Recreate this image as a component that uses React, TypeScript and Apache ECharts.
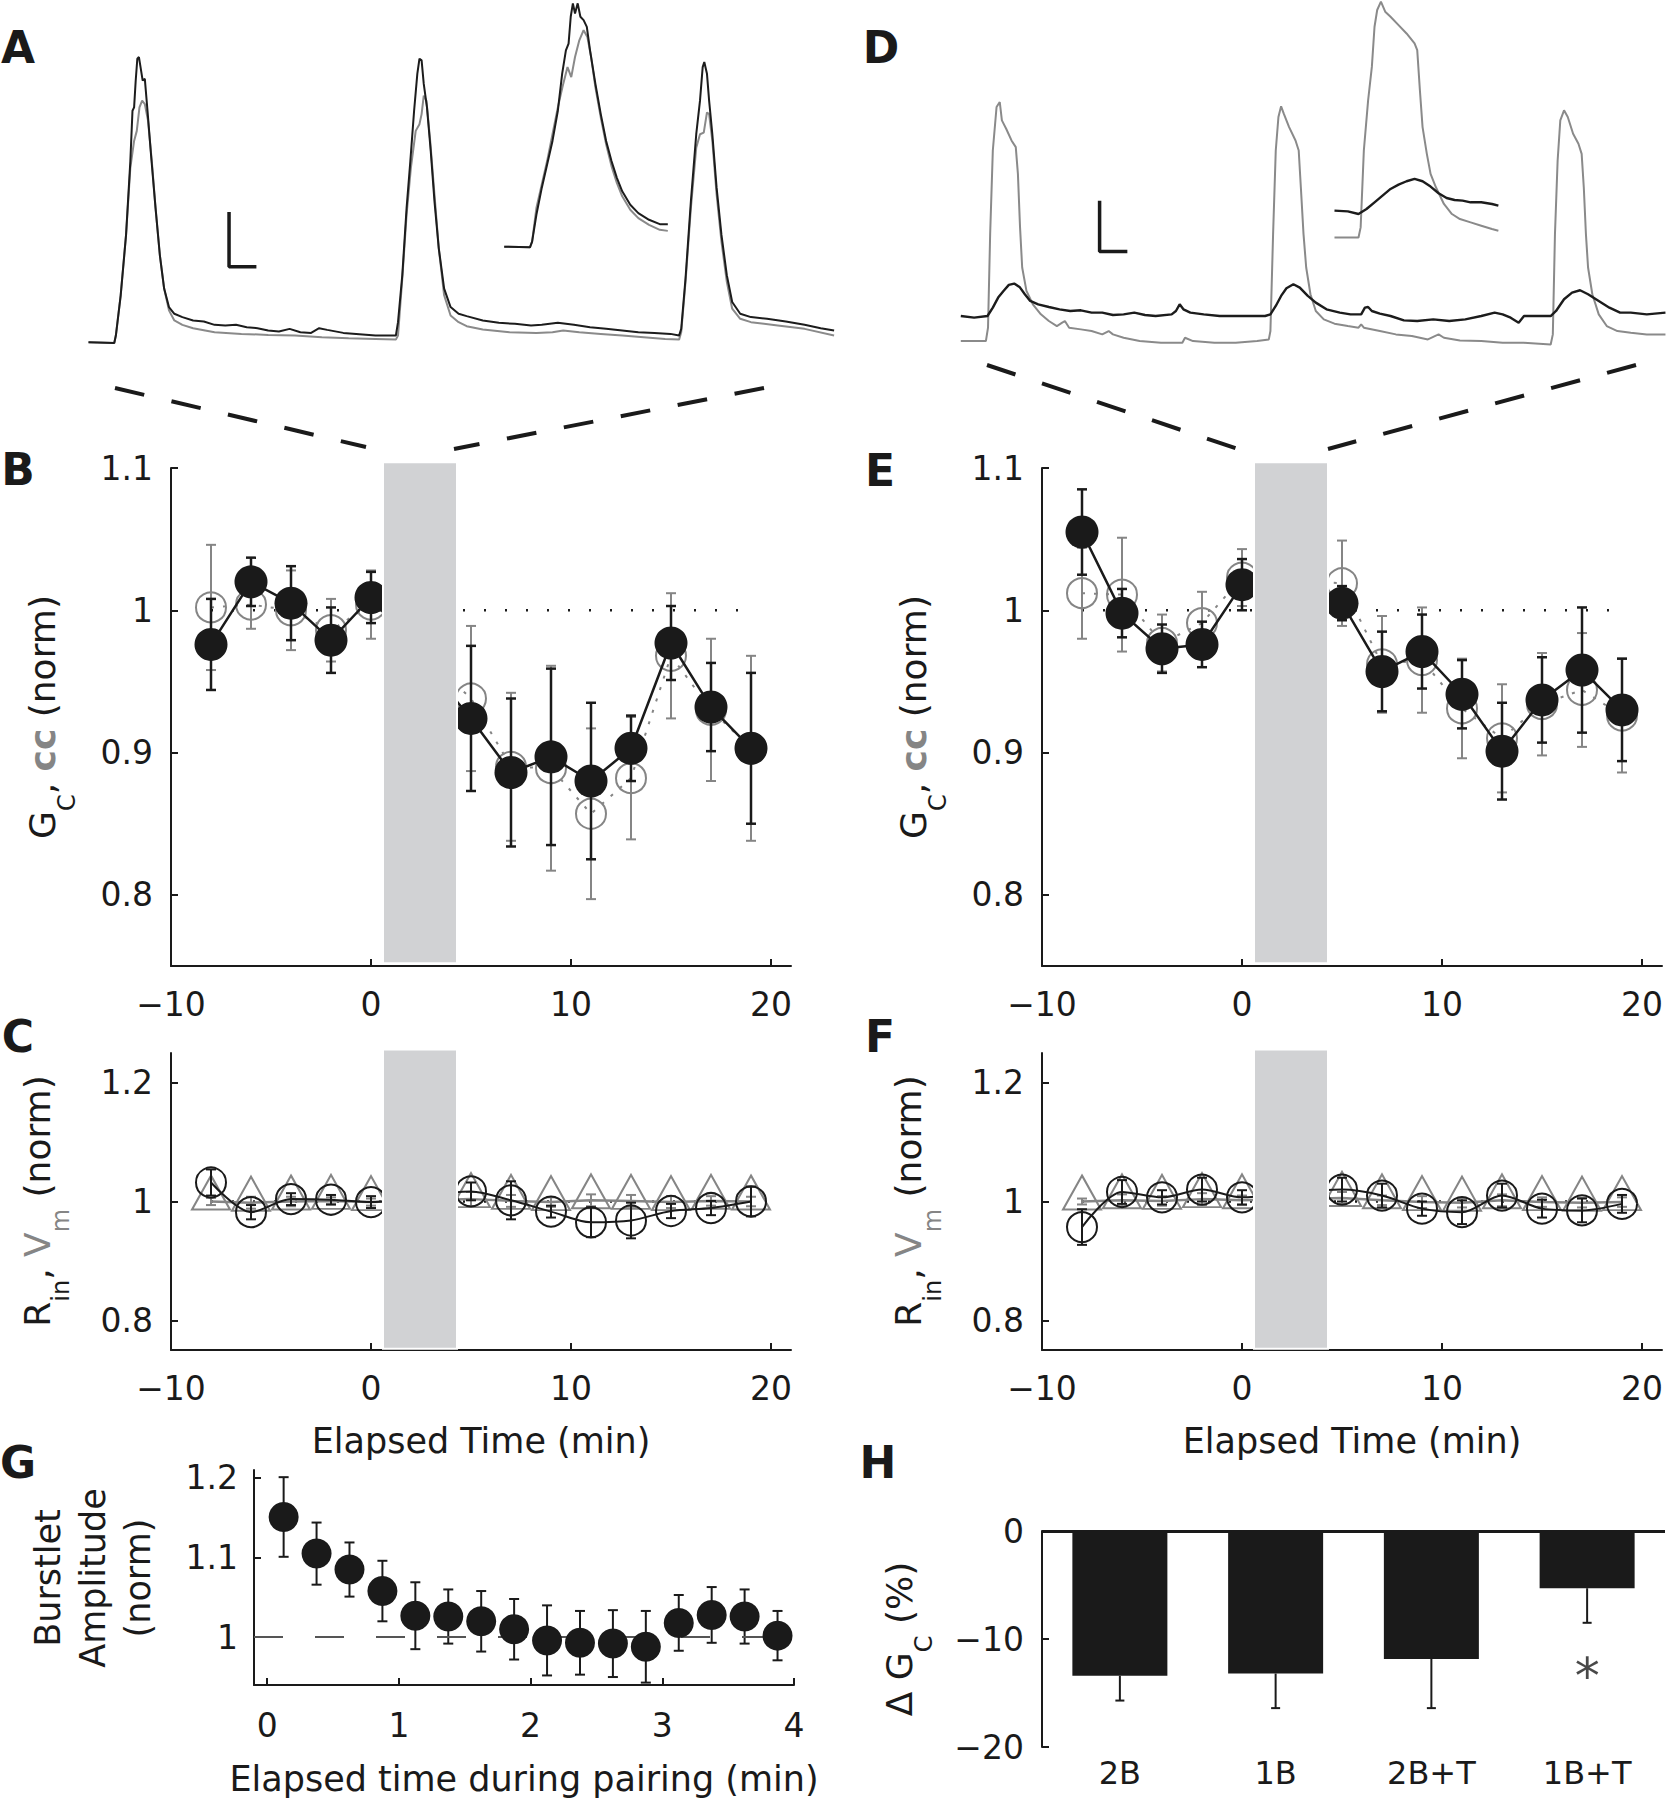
import React, { useEffect, useRef } from 'react';
import * as echarts from 'echarts';

const FONT_NAME = 'DejaVu Sans';
const FONT = '"DejaVu Sans", "Liberation Sans", Arial, sans-serif';
const BLACK = '#1a1a1a';
const GRAY = '#858585';
const TRACE_BLACK = '#1c1c1c';
const TRACE_GRAY = '#8a8a8a';
const SHADE = '#d1d2d4';

// ---------- Panels B–F : sampling times (min) ----------
const timeMin = [-8, -6, -4, -2, 0, 5, 7, 9, 11, 13, 15, 17, 19];
const pairingWindow = [0.6, 4.3];
const gcTicks = [0.8, 0.9, 1, 1.1];
const rvTicks = [0.8, 1, 1.2];
const baselineSpan = [-8, 19];

// B : 2 bursts (G_C black, cc grey)
const bGc = [0.976, 1.02, 1.005, 0.979, 1.009, 0.924, 0.886, 0.897, 0.88, 0.903, 0.977, 0.932, 0.903];
const bGcErr = [0.032, 0.017, 0.026, 0.023, 0.018, 0.051, 0.052, 0.062, 0.055, 0.023, 0.026, 0.031, 0.053];
const bCc = [1.002, 1.004, 1.0, 0.986, 1.004, 0.938, 0.89, 0.889, 0.857, 0.882, 0.968, 0.93, 0.903];
const bCcErr = [0.044, 0.017, 0.028, 0.022, 0.024, 0.051, 0.052, 0.072, 0.06, 0.043, 0.044, 0.05, 0.065];

// E
const eGc = [1.055, 0.998, 0.973, 0.976, 1.018, 1.005, 0.957, 0.971, 0.941, 0.901, 0.937, 0.958, 0.93];
const eGcErr = [0.03, 0.017, 0.017, 0.016, 0.018, 0.012, 0.028, 0.026, 0.024, 0.034, 0.03, 0.044, 0.036];
const eCc = [1.012, 1.011, 0.977, 0.991, 1.023, 1.019, 0.962, 0.965, 0.931, 0.91, 0.934, 0.944, 0.926];
const eCcErr = [0.032, 0.04, 0.02, 0.022, 0.02, 0.03, 0.034, 0.037, 0.035, 0.038, 0.036, 0.04, 0.04];

// C : R_in (black circles), V_m (grey triangles)
const cRin = [1.032, 0.982, 1.004, 1.003, 0.999, 1.017, 1.002, 0.983, 0.965, 0.968, 0.984, 0.989, 1.0];
const cRinErr = [0.022, 0.012, 0.01, 0.008, 0.01, 0.015, 0.032, 0.01, 0.025, 0.03, 0.012, 0.012, 0.025];
const cVm = [1.0, 0.998, 1.0, 1.001, 0.999, 1.004, 1.001, 0.999, 1.002, 1.001, 0.999, 1.001, 1.0];
const cVmErr = [0.006, 0.01, 0.008, 0.006, 0.006, 0.012, 0.01, 0.008, 0.01, 0.01, 0.01, 0.008, 0.008];

// F
const fRin = [0.957, 1.016, 1.007, 1.02, 1.007, 1.02, 1.01, 0.988, 0.982, 1.01, 0.988, 0.985, 0.996];
const fRinErr = [0.03, 0.02, 0.012, 0.02, 0.012, 0.02, 0.02, 0.012, 0.02, 0.02, 0.015, 0.02, 0.015];
const fVm = [1.0, 1.002, 1.001, 1.004, 1.002, 1.006, 1.002, 0.999, 0.998, 1.002, 0.999, 0.998, 0.999];
const fVmErr = [0.005, 0.01, 0.008, 0.01, 0.008, 0.01, 0.008, 0.01, 0.008, 0.01, 0.008, 0.008, 0.008];

// G : burstlet amplitude during pairing
const gTime = [0.125, 0.375, 0.625, 0.875, 1.125, 1.375, 1.625, 1.875, 2.125, 2.375, 2.625, 2.875, 3.125, 3.375, 3.625, 3.875];
const gAmp = [1.151, 1.105, 1.085, 1.058, 1.027, 1.026, 1.02, 1.01, 0.996, 0.993, 0.992, 0.988, 1.018, 1.028, 1.026, 1.002];
const gErr = [0.05, 0.039, 0.034, 0.038, 0.042, 0.034, 0.038, 0.038, 0.044, 0.04, 0.042, 0.045, 0.035, 0.035, 0.034, 0.031];
const gTicksX = [0, 1, 2, 3, 4];
const gTicksY = [1, 1.1, 1.2];

// H : change in G_C
const hCats = ['2B', '1B', '2B+T', '1B+T'];
const hVals = [-13.4, -13.2, -11.85, -5.3];
const hErr = [2.3, 3.2, 4.55, 3.2];
const hStar = ['1B+T', -12.3];

// ---------- Traces (time a.u., amplitude a.u.) ----------
const traceABlack = [[1.65,0],[2.13,-0.02],[2.16,0.2],[2.25,1.4],[2.35,3.2],[2.43,5.4],[2.47,6.9],[2.5,7.0],[2.53,7.8],[2.56,8.45],[2.59,8.5],[2.62,8.2],[2.66,7.8],[2.7,7.85],[2.75,6.9],[2.82,5.5],[2.9,4.0],[2.98,2.6],[3.06,1.6],[3.15,1.05],[3.25,0.85],[3.4,0.75],[3.6,0.65],[3.8,0.62],[4.0,0.52],[4.2,0.5],[4.4,0.52],[4.6,0.45],[4.8,0.42],[5.0,0.35],[5.2,0.32],[5.4,0.4],[5.6,0.3],[5.8,0.28],[5.95,0.42],[6.1,0.37],[6.4,0.28],[6.7,0.24],[7.0,0.2],[7.38,0.2],[7.42,0.6],[7.5,2.0],[7.58,4.0],[7.65,5.4],[7.72,6.9],[7.78,8.0],[7.82,8.45],[7.86,8.4],[7.9,7.7],[7.96,7.0],[8.03,5.7],[8.1,4.2],[8.18,2.8],[8.28,1.6],[8.4,1.05],[8.55,0.85],[8.7,0.78],[9.0,0.65],[9.3,0.58],[9.6,0.55],[9.9,0.5],[10.1,0.52],[10.4,0.58],[10.7,0.52],[11.0,0.45],[11.3,0.4],[11.6,0.35],[11.9,0.3],[12.2,0.28],[12.5,0.25],[12.66,0.2],[12.7,0.4],[12.78,1.9],[12.88,4.2],[12.98,6.2],[13.05,7.2],[13.1,8.2],[13.13,8.35],[13.18,8.0],[13.22,7.2],[13.28,6.2],[13.36,4.6],[13.45,3.2],[13.55,2.0],[13.65,1.2],[13.8,0.85],[14.0,0.75],[14.3,0.7],[14.65,0.62],[15.0,0.52],[15.3,0.42],[15.55,0.35]];
const traceAGray = [[1.65,0],[2.13,-0.02],[2.16,0.2],[2.25,1.4],[2.35,3.2],[2.43,5.2],[2.5,6.0],[2.55,6.3],[2.6,7.0],[2.65,7.2],[2.7,7.1],[2.76,6.6],[2.83,5.4],[2.9,4.0],[2.98,2.6],[3.06,1.6],[3.15,0.95],[3.25,0.65],[3.4,0.52],[3.6,0.42],[4.0,0.3],[4.5,0.25],[5.0,0.22],[5.5,0.2],[6.0,0.15],[6.5,0.12],[7.0,0.1],[7.38,0.08],[7.42,0.2],[7.5,1.9],[7.58,3.8],[7.66,5.2],[7.75,6.3],[7.82,6.5],[7.86,6.8],[7.9,7.35],[7.95,7.2],[8.02,6.0],[8.1,4.4],[8.18,2.8],[8.28,1.4],[8.4,0.8],[8.55,0.6],[8.7,0.48],[9.0,0.38],[9.5,0.3],[10.0,0.28],[10.3,0.3],[10.5,0.35],[10.8,0.3],[11.2,0.25],[11.6,0.2],[12.0,0.15],[12.4,0.1],[12.66,0.08],[12.7,0.3],[12.78,1.8],[12.88,4.0],[12.98,5.8],[13.05,6.2],[13.12,6.25],[13.18,6.85],[13.22,6.8],[13.28,6.0],[13.36,4.4],[13.45,3.0],[13.55,1.8],[13.65,1.0],[13.8,0.7],[14.0,0.6],[14.5,0.5],[15.0,0.4],[15.55,0.2]];
const insetABlack = [[9.4,2.85],[9.88,2.83],[9.92,3.0],[10.0,3.8],[10.1,4.6],[10.2,5.3],[10.3,6.0],[10.4,6.9],[10.48,8.0],[10.55,8.7],[10.6,8.9],[10.64,9.7],[10.68,10.1],[10.72,9.8],[10.77,10.1],[10.82,9.7],[10.88,9.6],[10.94,9.4],[11.0,8.7],[11.1,7.7],[11.2,6.8],[11.3,6.0],[11.4,5.4],[11.5,4.9],[11.6,4.5],[11.75,4.1],[11.9,3.85],[12.1,3.65],[12.3,3.52],[12.45,3.52]];
const insetAGray = [[9.4,2.85],[9.88,2.83],[9.92,3.0],[10.0,4.0],[10.1,4.7],[10.2,5.4],[10.3,6.2],[10.4,7.0],[10.5,7.7],[10.58,8.2],[10.65,7.9],[10.72,8.5],[10.8,9.0],[10.88,9.3],[10.95,9.1],[11.02,8.5],[11.1,7.6],[11.2,6.7],[11.3,5.9],[11.4,5.25],[11.5,4.75],[11.6,4.35],[11.75,3.95],[11.9,3.7],[12.1,3.5],[12.3,3.35],[12.45,3.32]];
const scaleBarA = [[4.27,3.88],[4.27,2.25],[4.78,2.25]];

const traceDBlack = [[2.45,0.75],[2.7,0.7],[2.95,0.75],[3.05,1.0],[3.15,1.3],[3.25,1.5],[3.35,1.68],[3.45,1.72],[3.55,1.62],[3.65,1.4],[3.75,1.2],[3.9,1.1],[4.1,1.02],[4.3,0.95],[4.5,0.9],[4.7,0.92],[4.9,0.85],[5.1,0.85],[5.3,0.78],[5.5,0.8],[5.7,0.85],[5.9,0.78],[6.1,0.75],[6.4,0.8],[6.48,0.9],[6.55,1.1],[6.62,0.95],[6.75,0.85],[7.0,0.8],[7.3,0.75],[7.6,0.75],[7.9,0.75],[8.15,0.75],[8.25,0.8],[8.35,1.05],[8.45,1.35],[8.55,1.58],[8.68,1.7],[8.8,1.6],[8.95,1.35],[9.1,1.15],[9.3,0.95],[9.55,0.85],[9.75,0.8],[9.95,0.8],[10.02,1.0],[10.08,1.02],[10.15,0.9],[10.3,0.82],[10.5,0.75],[10.75,0.62],[11.0,0.6],[11.3,0.65],[11.6,0.6],[11.9,0.65],[12.2,0.75],[12.45,0.85],[12.6,0.8],[12.75,0.7],[12.9,0.55],[13.0,0.75],[13.2,0.75],[13.5,0.75],[13.6,0.9],[13.75,1.25],[13.9,1.45],[14.05,1.52],[14.2,1.4],[14.4,1.2],[14.6,1.0],[14.8,0.85],[15.0,0.85],[15.3,0.8],[15.65,0.85]];
const traceDGray = [[2.45,0],[2.92,0],[2.96,0.4],[3.0,3.2],[3.05,5.7],[3.12,7.0],[3.18,7.15],[3.22,6.6],[3.3,6.35],[3.4,6.0],[3.48,5.8],[3.52,5.0],[3.56,3.4],[3.6,2.2],[3.68,1.5],[3.8,1.1],[3.95,0.8],[4.1,0.6],[4.25,0.45],[4.35,0.55],[4.4,0.6],[4.48,0.4],[4.7,0.35],[4.9,0.3],[5.1,0.2],[5.22,0.3],[5.3,0.2],[5.5,0.1],[5.8,0],[6.2,-0.05],[6.6,-0.05],[6.65,0.1],[6.8,0],[7.2,-0.05],[7.6,-0.05],[8.0,0],[8.22,0.05],[8.25,0.3],[8.3,3.2],[8.35,5.7],[8.4,6.7],[8.45,7.02],[8.5,6.8],[8.6,6.4],[8.72,6.0],[8.78,5.7],[8.82,4.6],[8.87,3.2],[8.92,2.2],[9.0,1.4],[9.1,0.9],[9.25,0.65],[9.45,0.52],[9.7,0.45],[9.9,0.4],[9.95,0.5],[10.0,0.4],[10.3,0.3],[10.6,0.2],[10.9,0.15],[11.2,0.05],[11.4,0.2],[11.5,0.1],[11.8,0.02],[12.2,0],[12.6,-0.05],[13.0,-0.05],[13.5,-0.1],[13.54,0.2],[13.58,3.2],[13.63,5.4],[13.68,6.6],[13.75,6.9],[13.82,6.7],[13.92,6.2],[14.02,5.9],[14.08,5.6],[14.12,4.6],[14.16,3.2],[14.2,2.2],[14.28,1.4],[14.4,0.8],[14.55,0.45],[14.75,0.3],[15.0,0.25],[15.3,0.2],[15.65,0.2]];
const insetDBlack = [[9.45,3.9],[9.7,3.88],[9.9,3.8],[10.05,3.95],[10.2,4.15],[10.35,4.35],[10.5,4.55],[10.65,4.68],[10.8,4.78],[10.95,4.85],[11.1,4.78],[11.25,4.62],[11.4,4.42],[11.55,4.28],[11.7,4.22],[11.85,4.2],[12.0,4.15],[12.2,4.15],[12.4,4.1],[12.52,4.05]];
const insetDGray = [[9.45,3.1],[9.9,3.1],[9.94,3.4],[10.0,5.7],[10.08,7.2],[10.15,8.2],[10.2,9.4],[10.25,9.9],[10.32,10.15],[10.4,9.85],[10.5,9.7],[10.65,9.45],[10.8,9.2],[10.95,8.9],[11.0,8.7],[11.05,7.5],[11.1,6.4],[11.18,5.6],[11.25,5.0],[11.35,4.6],[11.5,4.1],[11.65,3.8],[11.8,3.65],[12.0,3.55],[12.2,3.45],[12.4,3.35],[12.52,3.3]];
const scaleBarD = [[5.05,4.2],[5.05,2.68],[5.57,2.68]];

// ---------- helpers ----------
const fmt = (v: number) => (v < 0 ? '\u2212' + String(Math.abs(v)) : String(v));
const xy = (xs: number[], ys: number[]) => xs.map((x, i) => [x, ys[i]]);

const axisBase = (gridIndex: number): any => ({
  gridIndex,
  type: 'value',
  splitLine: { show: false },
  axisLine: { show: true, onZero: false, lineStyle: { color: BLACK, width: 2 } },
  axisTick: { show: true, inside: true, length: 7, lineStyle: { color: BLACK, width: 2 } },
  axisLabel: { color: BLACK, fontSize: 33, fontFamily: FONT, formatter: fmt, margin: 22 },
});

const timeX = (g: number) => {
  const b = axisBase(g);
  return { ...b, min: -10, max: 21, interval: 10 };
};
const customAxis = (g: number, min: number, max: number, ticks: number[], margin: number) => {
  const b = axisBase(g);
  return {
    ...b, min, max,
    axisTick: { ...b.axisTick, customValues: ticks },
    axisLabel: { ...b.axisLabel, margin, customValues: ticks },
  };
};
const hiddenAxis = (g: number, min: number, max: number) => ({ type: 'value', gridIndex: g, min, max, show: false });

function errorBars(ax: number, xs: any[], ys: number[], errs: number[], color: string, cap: number, lw: number, z: number, downOnly = false) {
  return {
    type: 'custom', xAxisIndex: ax, yAxisIndex: ax, z, silent: true,
    data: xs.map((x, i) => [downOnly ? i : x, downOnly ? ys[i] : ys[i] - errs[i], ys[i] + (downOnly ? -errs[i] : errs[i])]),
    encode: { x: 0, y: [1, 2] },
    renderItem: (_p: any, api: any) => {
      const x = api.value(0);
      const a = api.coord([x, api.value(1)]);
      const b = api.coord([x, api.value(2)]);
      const st = { stroke: color, lineWidth: lw };
      const kids: any[] = [
        { type: 'line', shape: { x1: a[0], y1: a[1], x2: b[0], y2: b[1] }, style: st },
        { type: 'line', shape: { x1: b[0] - cap, y1: b[1], x2: b[0] + cap, y2: b[1] }, style: st },
      ];
      if (!downOnly) kids.push({ type: 'line', shape: { x1: a[0] - cap, y1: a[1], x2: a[0] + cap, y2: a[1] }, style: st });
      return { type: 'group', children: kids };
    },
  };
}

function shade(ax: number, yLo: number, yHi: number) {
  return {
    type: 'custom', xAxisIndex: ax, yAxisIndex: ax, z: 20, silent: true, clip: false,
    data: [[pairingWindow[0], pairingWindow[1], yLo, yHi]],
    encode: { x: [0, 1], y: [2, 3] },
    renderItem: (_p: any, api: any) => {
      const a = api.coord([api.value(0), api.value(3)]);
      const b = api.coord([api.value(1), api.value(2)]);
      return { type: 'rect', shape: { x: a[0], y: a[1], width: b[0] - a[0], height: b[1] - a[1] }, style: { fill: SHADE, stroke: '#ffffff', lineWidth: 2 } };
    },
  };
}

function refLine(ax: number, z = 1) {
  return {
    type: 'line', xAxisIndex: ax, yAxisIndex: ax, z, silent: true, symbol: 'none',
    data: [[baselineSpan[0], 1], [baselineSpan[1], 1]],
    lineStyle: { color: BLACK, width: 2.5, type: [2, 19] },
  };
}

function traceLine(ax: number, data: number[][], color: string, width: number, z: number) {
  return { type: 'line', xAxisIndex: ax, yAxisIndex: ax, data, symbol: 'none', showSymbol: false, silent: true, z, lineStyle: { color, width } };
}

function gcPanel(ax: number, gc: number[], gcErr: number[], cc: number[], ccErr: number[]) {
  return [
    refLine(ax),
    errorBars(ax, timeMin, cc, ccErr, GRAY, 5, 2, 3),
    {
      type: 'line', xAxisIndex: ax, yAxisIndex: ax, z: 4, silent: true,
      data: xy(timeMin, cc), symbol: 'circle', symbolSize: 30,
      itemStyle: { color: 'rgba(255,255,255,0)', borderColor: GRAY, borderWidth: 2 },
      lineStyle: { color: GRAY, width: 2, type: [3, 9] },
    },
    errorBars(ax, timeMin, gc, gcErr, BLACK, 5, 2.5, 5),
    {
      type: 'line', xAxisIndex: ax, yAxisIndex: ax, z: 6, silent: true,
      data: xy(timeMin, gc), symbol: 'circle', symbolSize: 33,
      itemStyle: { color: BLACK, opacity: 1 },
      lineStyle: { color: BLACK, width: 2.5 },
    },
    shade(ax, 0.752, 1.104),
  ];
}

function rvPanel(ax: number, rin: number[], rinErr: number[], vm: number[], vmErr: number[]) {
  return [
    refLine(ax),
    errorBars(ax, timeMin, vm, vmErr, GRAY, 5, 2, 3),
    {
      type: 'line', xAxisIndex: ax, yAxisIndex: ax, z: 4, silent: true,
      data: xy(timeMin, vm), symbol: 'triangle', symbolSize: [38, 34], symbolOffset: [0, -9],
      itemStyle: { color: 'rgba(255,255,255,0)', borderColor: GRAY, borderWidth: 2 },
      lineStyle: { color: GRAY, width: 2.5 },
    },
    errorBars(ax, timeMin, rin, rinErr, BLACK, 5, 2, 5),
    {
      type: 'line', xAxisIndex: ax, yAxisIndex: ax, z: 6, silent: true, smooth: 0.3,
      data: xy(timeMin, rin), symbol: 'circle', symbolSize: 30,
      itemStyle: { color: 'rgba(255,255,255,0)', borderColor: BLACK, borderWidth: 2 },
      lineStyle: { color: BLACK, width: 2 },
    },
    shade(ax, 0.752, 1.256),
  ];
}

const rich = {
  n: { fontFamily: FONT_NAME, fontSize: 36, fill: BLACK, color: BLACK, lineHeight: 72 },
  s: { fontFamily: FONT_NAME, fontSize: 24, fill: BLACK, color: BLACK, lineHeight: 24, verticalAlign: 'bottom' },
  g: { fontFamily: FONT_NAME, fontSize: 36, fontWeight: 'bold', fill: GRAY, color: GRAY, lineHeight: 72 },
  gn: { fontFamily: FONT_NAME, fontSize: 36, fill: GRAY, color: GRAY, lineHeight: 72 },
  gs: { fontFamily: FONT_NAME, fontSize: 24, fill: GRAY, color: GRAY, lineHeight: 24, verticalAlign: 'bottom' },
};

const yTitle = (text: string, x: number, y: number) => ({
  type: 'text', x, y, rotation: Math.PI / 2, silent: true,
  style: { text, rich, fill: BLACK, font: `36px ${FONT}`, align: 'center', verticalAlign: 'middle', textAlign: 'center', textVerticalAlign: 'middle' },
});
const plainText = (text: string, x: number, y: number, font: string, rotation = 0, lineHeight?: number) => ({
  type: 'text', x, y, rotation, silent: true,
  style: { text, fill: BLACK, font, lineHeight, align: 'center', verticalAlign: 'middle', textAlign: 'center', textVerticalAlign: 'middle' },
});
const dashed = (x1: number, y1: number, x2: number, y2: number) => ({
  type: 'line', silent: true, shape: { x1, y1, x2, y2 },
  style: { stroke: BLACK, lineWidth: 4, lineDash: [30, 28] },
});

const LETTER = `bold 44px ${FONT}`;
const TITLE = `35px ${FONT}`;

function buildOption(): any {
  const grid = [
    { left: 0, top: 0, width: 840, height: 420 },      // A
    { left: 830, top: 0, width: 836, height: 420 },    // D
    { left: 171, top: 468, width: 620, height: 498 },  // B
    { left: 1042, top: 468, width: 621, height: 498 }, // E
    { left: 171, top: 1053, width: 620, height: 297 }, // C
    { left: 1042, top: 1053, width: 621, height: 297 },// F
    { left: 254, top: 1470, width: 540, height: 215 }, // G
    { left: 1042, top: 1531, width: 623, height: 216 },// H
  ];

  const hX = {
    type: 'category', gridIndex: 7, data: hCats,
    axisLine: { show: false, onZero: false }, axisTick: { show: false },
    axisLabel: { color: BLACK, fontSize: 32, fontFamily: FONT, margin: 10 },
    splitLine: { show: false },
  };
  const hY = { ...axisBase(7), min: -20, max: 0, interval: 10, axisLabel: { ...axisBase(7).axisLabel, margin: 18 } };

  const xAxis = [
    hiddenAxis(0, 0, 15.66), hiddenAxis(1, 0, 15.66),
    timeX(2), timeX(3), timeX(4), timeX(5),
    customAxis(6, -0.1, 4, gTicksX, 24),
    hX,
  ];
  const yAxis = [
    hiddenAxis(0, -2.316, 10.2), hiddenAxis(1, -2.36, 10.2),
    customAxis(2, 0.75, 1.1, gcTicks, 18), customAxis(3, 0.75, 1.1, gcTicks, 18),
    customAxis(4, 0.75, 1.25, rvTicks, 18), customAxis(5, 0.75, 1.25, rvTicks, 18),
    customAxis(6, 0.94, 1.21, gTicksY, 16),
    hY,
  ];

  const series: any[] = [
    traceLine(0, traceAGray, TRACE_GRAY, 2, 2),
    traceLine(0, traceABlack, TRACE_BLACK, 2, 3),
    traceLine(0, insetAGray, TRACE_GRAY, 2, 2),
    traceLine(0, insetABlack, TRACE_BLACK, 2, 3),
    traceLine(0, scaleBarA, BLACK, 3.5, 4),
    traceLine(1, traceDGray, TRACE_GRAY, 2, 2),
    traceLine(1, traceDBlack, TRACE_BLACK, 2.4, 3),
    traceLine(1, insetDGray, TRACE_GRAY, 2, 2),
    traceLine(1, insetDBlack, TRACE_BLACK, 2.4, 3),
    traceLine(1, scaleBarD, BLACK, 3.5, 4),
    ...gcPanel(2, bGc, bGcErr, bCc, bCcErr),
    ...gcPanel(3, eGc, eGcErr, eCc, eCcErr),
    ...rvPanel(4, cRin, cRinErr, cVm, cVmErr),
    ...rvPanel(5, fRin, fRinErr, fVm, fVmErr),
    // G
    {
      type: 'scatter', xAxisIndex: 6, yAxisIndex: 6, z: 5, silent: true,
      data: xy(gTime, gAmp), symbol: 'circle', symbolSize: 30, itemStyle: { color: BLACK, opacity: 1 },
      markLine: {
        silent: true, symbol: 'none', label: { show: false },
        lineStyle: { color: '#555555', width: 2, type: [29, 32] },
        data: [{ yAxis: 1 }],
      },
    },
    errorBars(6, gTime, gAmp, gErr, BLACK, 5, 2, 4),
    // H
    {
      type: 'bar', xAxisIndex: 7, yAxisIndex: 7, z: 3, silent: true,
      data: hVals, barWidth: '61%', itemStyle: { color: BLACK },
      markLine: {
        silent: true, symbol: 'none', label: { show: false },
        lineStyle: { color: BLACK, width: 3, type: 'solid' },
        data: [{ yAxis: 0 }],
      },
    },
    errorBars(7, hCats, hVals, hErr, BLACK, 4.5, 2, 4, true),
    {
      type: 'scatter', xAxisIndex: 7, yAxisIndex: 7, z: 5, silent: true,
      data: [hStar], symbol: 'circle', symbolSize: 1, itemStyle: { color: 'rgba(0,0,0,0)' },
      label: { show: true, position: 'inside', formatter: '*', fontSize: 50, fontFamily: FONT, color: BLACK, offset: [0, 12] },
    },
  ];

  const graphic = [
    plainText('A', 18, 47, LETTER), plainText('D', 881, 47, LETTER),
    plainText('B', 18, 469, LETTER), plainText('E', 880, 470, LETTER),
    plainText('C', 18, 1036, LETTER), plainText('F', 880, 1036, LETTER),
    plainText('G', 18, 1462, LETTER), plainText('H', 878, 1462, LETTER),
    dashed(115, 388, 366, 447), dashed(764, 388, 454, 449),
    dashed(987, 365, 1238, 449), dashed(1636, 365, 1328, 449),
    yTitle('{n|G}{s|C}{n|, }{g|cc}{n| (norm)}', 42.5, 717),
    yTitle('{n|G}{s|C}{n|, }{g|cc}{n| (norm)}', 913.5, 717),
    yTitle('{n|R}{s|in}{n|, }{gn|V}{gs|m}{n| (norm)}', 37, 1201),
    yTitle('{n|R}{s|in}{n|, }{gn|V}{gs|m}{n| (norm)}', 908.5, 1201),
    yTitle('{n|\u0394 G}{s|C}{n| (%)}', 899.5, 1639),
    plainText('Burstlet\nAmplitude\n(norm)', 93, 1578, TITLE, Math.PI / 2, 45),
    plainText('Elapsed Time (min)', 481, 1441, TITLE),
    plainText('Elapsed Time (min)', 1352, 1441, TITLE),
    plainText('Elapsed time during pairing (min)', 524, 1779, TITLE),
  ];

  return { animation: false, backgroundColor: '#ffffff', grid, xAxis, yAxis, series, graphic };
}

export default function App() {
  const ref = useRef<HTMLDivElement>(null);
  useEffect(() => {
    if (!ref.current) return;
    const chart = echarts.init(ref.current, null, { renderer: 'svg' });
    chart.setOption(buildOption());
    return () => chart.dispose();
  }, []);
  return (
    <div
      ref={ref}
      style={{ position: 'absolute', left: 0, top: 0, width: 1666, height: 1800, background: '#ffffff' }}
    />
  );
}
